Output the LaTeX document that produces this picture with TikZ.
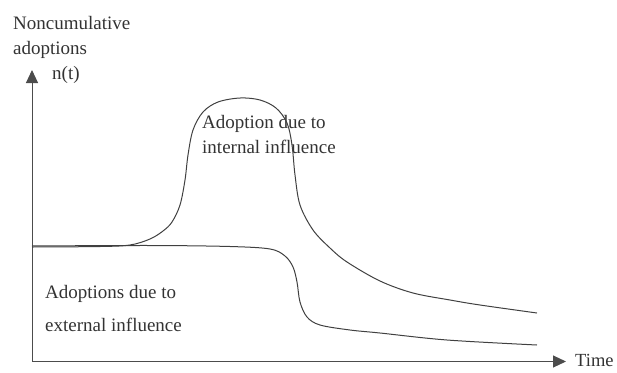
\documentclass[tikz,border=0pt]{standalone}
\usepackage{fontspec}
\setmainfont{Liberation Serif}
\usetikzlibrary{arrows.meta}
\begin{document}
\begin{tikzpicture}[x=1pt,y=-1pt,
  lbl/.style={inner sep=0pt,anchor=west,align=left,text=black!80,font=\fontsize{19}{25}\selectfont},
  curve/.style={draw=black!75,line width=1pt},
  axis/.style={draw=black!70,line width=1pt,-{Triangle[length=13pt,width=12pt]}}]
\useasboundingbox (0,0) rectangle (617,372);
\coordinate (O) at (32,361.5);
\coordinate (Ytop) at (32,70);
\coordinate (Xend) at (566,361.5);
\draw[axis] (O) -- (Ytop);
\draw[axis] (O) -- (Xend);
\node[lbl] (ylab) at (13,37) {Noncumulative\\adoptions};
\node[lbl] (nt) at (52,75) {n(t)};
\node[lbl,font=\fontsize{18.5}{25}\selectfont] (time) at (575,360.5) {Time};
\node[lbl] (int) at (202,134) {Adoption due to\\internal influence};
\node[lbl,font=\fontsize{19}{33}\selectfont] (ext) at (45,308) {Adoptions due to\\external influence};
% internal influence curve
\draw[curve] plot[smooth,tension=0.55] coordinates {
 (32,247) (100,246.5) (130,245) (150,239) (163,231) (172,222) (180,205) (185,180) (188,155) (193,130) (203,112) (218,102) (240,98) (260,100) (276,108) (287,123) (292,145) (295,175) (300,205) (313,230) (330,248) (347,262) (380,281) (413,293) (450,300) (480,305) (537,313)};
% external influence curve
\draw[curve] plot[smooth,tension=0.55] coordinates {
 (32,246) (150,245.5) (230,246.5) (270,249) (285,256) (293,267) (297,282) (300,302) (307,317) (320,325) (350,330) (380,333) (447,340) (537,345)};
\end{tikzpicture}
\end{document}
